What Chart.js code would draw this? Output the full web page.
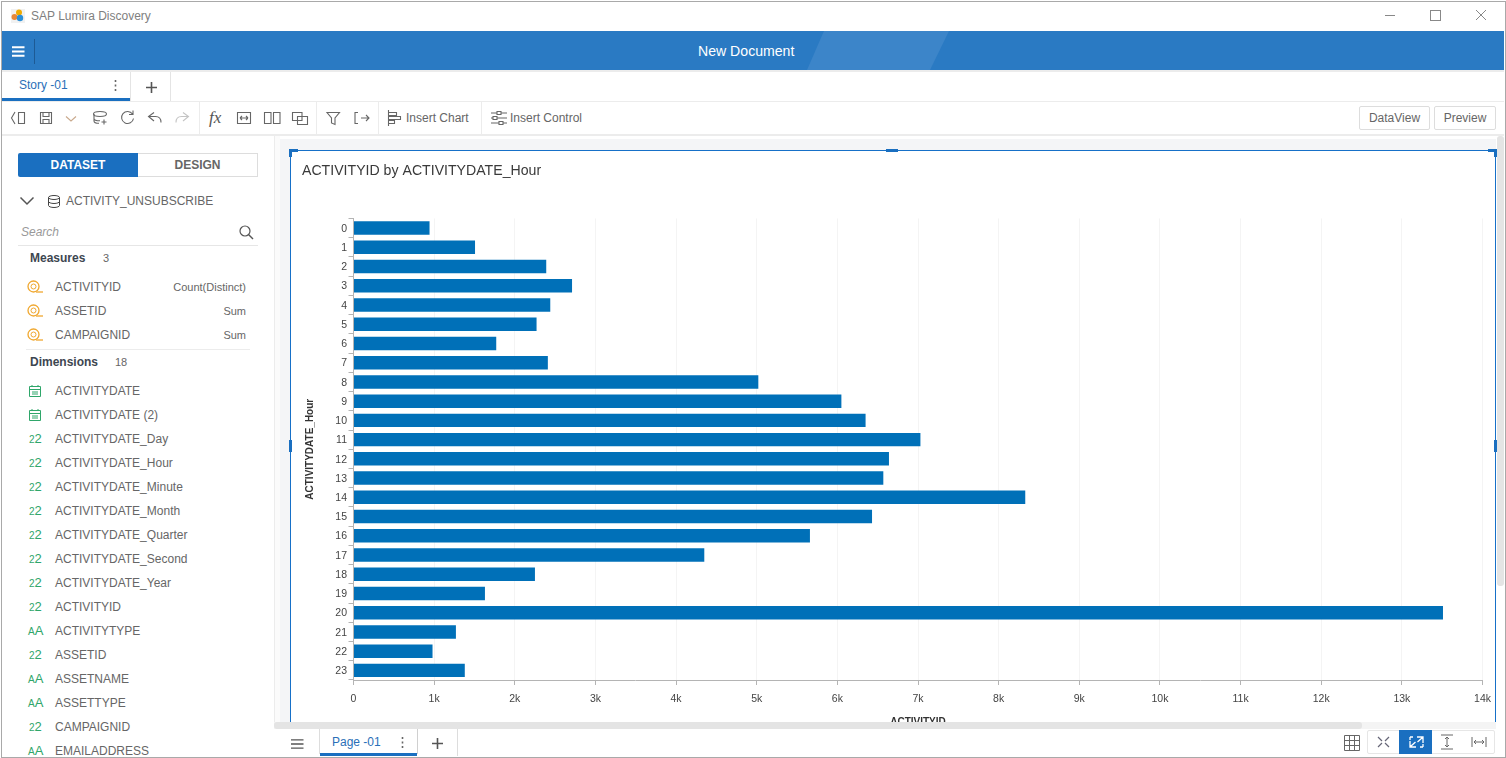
<!DOCTYPE html>
<html>
<head>
<meta charset="utf-8">
<title>SAP Lumira Discovery</title>
<script src="https://cdn.jsdelivr.net/npm/chart.js@4"></script>
<style>
  html, body { margin: 0; padding: 0; background: #fff; overflow: hidden; }
  body { width: 1506px; height: 758px; position: relative; font-family: "Liberation Sans", Arial, sans-serif; color: #666; }
  .a { position: absolute; }
  .t { position: absolute; white-space: nowrap; line-height: 14px; }
  svg { position: absolute; overflow: visible; fill: none; }
  #chartBox { position: absolute; left: 292px; top: 152px; width: 1203px; height: 578px; z-index: 1; }
  #bottomBar { position: absolute; left: 274px; top: 722px; width: 1230px; height: 34px; z-index: 2; background: #fff; }
</style>
</head>
<body>
<!-- window frame -->
<div class="a" style="left:1px;top:1px;width:1503px;height:755px;border:1px solid #a9a9a9;z-index:5;pointer-events:none"></div>

<!-- title bar -->
<div class="a" style="left:11px;top:9px;width:14px;height:14px;background:#f1f1f1"></div>
<svg style="left:11px;top:9px" width="15" height="15"><circle cx="8" cy="3.5" r="3" fill="#f0ab00"/><circle cx="3.5" cy="8" r="3" fill="#e8883a"/><circle cx="9" cy="9" r="3.2" fill="#2a8fd8"/></svg>
<div class="t" style="left:31px;top:9px;font-size:12px;color:#808080">SAP Lumira Discovery</div>
<div class="a" style="left:1385px;top:15px;width:10px;height:1px;background:#888"></div>
<div class="a" style="left:1430px;top:10px;width:9px;height:9px;border:1px solid #888"></div>
<svg style="left:1476px;top:10px" width="11" height="11"><path d="M0 0L10 10M10 0L0 10" stroke="#888"/></svg>

<!-- blue header -->
<div class="a" style="left:2px;top:31px;width:1502px;height:39px;background:#2a7ac3;overflow:hidden">
  <svg style="left:0;top:0" width="1502" height="39"><path d="M822 0H947L928 39H805Z" fill="#3c85c9"/></svg>
</div>
<svg style="left:12px;top:46px" width="13" height="11"><path d="M0 1.2H12.5M0 5.5H12.5M0 9.8H12.5" stroke="#fff" stroke-width="2"/></svg>
<div class="a" style="left:34px;top:39px;width:1px;height:25px;background:#1d5a94"></div>
<div class="t" style="left:698px;top:44px;font-size:14.1px;color:#fff">New Document</div>
<div class="a" style="left:2px;top:70px;width:1502px;height:2px;background:#ececec"></div>

<!-- story tabs -->
<div class="t" style="left:19px;top:78px;font-size:12px;color:#2a6fb8">Story -01</div>
<svg style="left:114px;top:80px" width="3" height="12"><path d="M1.5 0v2M1.5 4.5v2M1.5 9v2" stroke="#666" stroke-width="1.6"/></svg>
<div class="a" style="left:2px;top:98px;width:128px;height:3px;background:#1a6fc0"></div>
<div class="a" style="left:130px;top:72px;width:1px;height:29px;background:#e4e4e4"></div>
<div class="a" style="left:170px;top:72px;width:1px;height:29px;background:#e4e4e4"></div>
<svg style="left:146px;top:82px" width="11" height="11"><path d="M5.5 0V11M0 5.5H11" stroke="#555" stroke-width="1.6"/></svg>

<!-- toolbar -->
<div class="a" style="left:2px;top:101px;width:1502px;height:1px;background:#ececec"></div>
<div class="a" style="left:2px;top:134px;width:1502px;height:2px;background:#ececec"></div>
<div class="a" style="left:199px;top:102px;width:1px;height:32px;background:#ececec"></div>
<div class="a" style="left:316px;top:102px;width:1px;height:32px;background:#ececec"></div>
<div class="a" style="left:378px;top:102px;width:1px;height:32px;background:#ececec"></div>
<div class="a" style="left:481px;top:102px;width:1px;height:32px;background:#ececec"></div>
<svg style="left:0;top:0;pointer-events:none" width="700" height="135">
  <g stroke="#666" stroke-width="1.1">
    <path d="M15 112L11.500 118L15 124M18.500 112.500h6v11h-6z"/>
    <path d="M40.500 112.500h11v11h-11zM43 112.500v4h6v-4M43 123.500v-4h6v4"/>
    <path d="M66 116.500l5 4.500l5-4.500" stroke="#c9a98c"/>
    <ellipse cx="100" cy="114" rx="6.500" ry="2.500"/><path d="M94 114v7c0 1.500 3 2.300 5 2.300M94 118.500c0 1.300 3 2.300 6 2.300"/><path d="M104 119.500v5M101.500 122h5"/>
    <path d="M132.500 114a6 6 0 1 0 1 4.500M133 110.500v4h-4"/>
    <path d="M154 112.500l-5.500 4l5.500 4.500M148.500 116.500h7c3 0 5.500 2 5.500 6"/>
    <path d="M183 112.500l5.500 4l-5.500 4.500M188.500 116.500h-7c-3 0-5.500 2-5.500 6" stroke="#c4c4c4"/>
    <path d="M237.500 112.500h13v11h-13zM240 118h8M240 118l2-2M240 118l2 2M248 118l-2-2M248 118l-2 2"/>
    <path d="M264.500 112.500h6.500v11h-6.500zM273.500 112.500h6.500v11h-6.500z"/>
    <path d="M292.500 112.500h9.500v8h-9.500zM297.500 116.500h10v8h-10z"/>
    <path d="M327 112.500h12.500l-4.500 5.500v6.500l-3.500-1.500v-5z"/>
    <path d="M358 112.500h-3v11h3M361 118h8M366 115l3 3l-3 3"/>
    <path d="M388.500 110v16M388.500 112.500h8v3h-8zM388.500 116.500h12v3h-12zM388.500 120.500h6v3h-6z"/>
    <path d="M491 113h6M501 113h6M491 118h2M497 118h10M491 123h8M503 123h4M497 111.500h4v3h-4zM493 116.500h4v3h-4zM499 121.500h4v3h-4z"/>
  </g>
</svg>
<div class="t" style="left:209px;top:108px;font:italic 17px 'Liberation Serif';color:#555">fx</div>
<div class="t" style="left:406px;top:111px;font-size:12px">Insert Chart</div>
<div class="t" style="left:510px;top:111px;font-size:12px">Insert Control</div>
<div class="t" style="left:1359px;top:106px;width:69px;height:22px;line-height:23px;border:1px solid #ddd;border-radius:2px;text-align:center;font-size:12px">DataView</div>
<div class="t" style="left:1434px;top:106px;width:60px;height:22px;line-height:23px;border:1px solid #ddd;border-radius:2px;text-align:center;font-size:12px">Preview</div>

<!-- canvas area background -->
<div class="a" style="left:274px;top:136px;width:1px;height:586px;background:#ececec"></div>
<div class="a" style="left:275px;top:136px;width:5px;height:586px;background:#fbfbfb"></div>
<div class="a" style="left:280px;top:139px;width:1216px;height:583px;background:#f4f5f7"></div>
<div class="a" style="left:1497px;top:136px;width:7px;height:450px;background:#e4e4e4;border-radius:3px"></div>
<div class="a" style="left:290px;top:150px;width:1204px;height:579px;background:#fff;border:1px solid #1670c8;border-bottom:0"></div>
<div class="a" style="left:289px;top:149px;width:9px;height:3px;background:#1a6fc0;z-index:3"></div>
<div class="a" style="left:289px;top:149px;width:3px;height:8px;background:#1a6fc0;z-index:3"></div>
<div class="a" style="left:1488px;top:149px;width:9px;height:3px;background:#1a6fc0;z-index:3"></div>
<div class="a" style="left:1494px;top:149px;width:3px;height:8px;background:#1a6fc0;z-index:3"></div>
<div class="a" style="left:886px;top:149px;width:12px;height:3px;background:#1a6fc0;z-index:3"></div>
<div class="a" style="left:289px;top:440px;width:3px;height:12px;background:#1a6fc0;z-index:3"></div>
<div class="a" style="left:1494px;top:440px;width:3px;height:12px;background:#1a6fc0;z-index:3"></div>

<div id="chartBox"><canvas id="chart" width="1203" height="578"></canvas></div>

<!-- bottom bar -->
<div id="bottomBar">
  <div class="a" style="left:0;top:0;width:1222px;height:7px;background:#f4f4f4"></div>
  <div class="a" style="left:0;top:0;width:1088px;height:7px;background:#e4e4e4;border-radius:3px"></div>
  <svg style="left:17px;top:17px" width="13" height="10"><path d="M0 0.800H12.500M0 5H12.500M0 9.200H12.500" stroke="#555" stroke-width="1.300"/></svg>
  <div class="a" style="left:45px;top:7px;width:1px;height:25px;background:#ddd"></div>
  <div class="t" style="left:58px;top:13px;font-size:12px;color:#2a6fb8">Page -01</div>
  <svg style="left:127px;top:15px" width="3" height="12"><path d="M1.500 0v2M1.500 4.500v2M1.500 9v2" stroke="#666" stroke-width="1.600"/></svg>
  <div class="a" style="left:46px;top:31px;width:97px;height:3px;background:#1a6fc0"></div>
  <div class="a" style="left:143px;top:7px;width:1px;height:25px;background:#d0d0d0"></div>
  <svg style="left:158px;top:16px" width="11" height="11"><path d="M5.500 0V11M0 5.500H11" stroke="#555" stroke-width="1.600"/></svg>
  <div class="a" style="left:183px;top:7px;width:1px;height:27px;background:#ddd"></div>
  <svg style="left:1070px;top:13px" width="16" height="16"><path d="M0.500 0.500h15v15h-15zM5.500 0.500v15M10.500 0.500v15M0.500 5.500h15M0.500 10.500h15" stroke="#666"/></svg>
  <div class="a" style="left:1093px;top:8px;width:128px;height:24px;border:1px solid #e6e6e6;box-sizing:border-box;border-radius:2px"></div>
  <div class="a" style="left:1125px;top:8px;width:33px;height:24px;background:#1a6fc0"></div>
  <svg style="left:1093px;top:8px" width="128" height="24">
    <path d="M11 7l4 4M22 7l-4 4M11 17l4-4M22 17l-4-4" stroke="#667" stroke-width="1.200"/>
    <path d="M43 7h3M43 7v3M56 17h-3M56 17v-3M50 7h6v6M49 17h-6v-6M55.500 7.500l-5 4.500M43.500 16.500l5-4.500" stroke="#fff" stroke-width="1.300"/>
    <path d="M74 5h12M74 19h12M80 7v10M78 9l2-2l2 2M78 15l2 2l2-2" stroke="#666"/>
    <path d="M105 7v10M119 7v10M107 12h10M109 10l-2 2l2 2M115 10l2 2l-2 2" stroke="#666"/>
  </svg>
</div>

<!-- side panel -->
<div class="t" style="left:18px;top:153px;width:120px;height:24px;line-height:24px;background:#1a6fc0;color:#fff;font-weight:bold;font-size:12px;text-align:center;border-radius:2px 0 0 2px">DATASET</div>
<div class="t" style="left:138px;top:153px;width:119px;height:22px;line-height:23px;border:1px solid #ddd;border-left:0;font-weight:bold;font-size:12px;text-align:center">DESIGN</div>
<svg style="left:20px;top:197px" width="14" height="8"><path d="M0.500 0.500L7 7L13.500 0.500" stroke="#555" stroke-width="1.500"/></svg>
<svg style="left:48px;top:195px" width="12" height="13"><ellipse cx="6" cy="2.500" rx="5.500" ry="2" stroke="#444"/><path d="M0.500 2.500v8c0 1 2.500 2 5.500 2s5.500-1 5.500-2v-8M0.500 6.500c0 1 2.500 2 5.500 2s5.500-1 5.500-2" stroke="#444"/></svg>
<div class="t" style="left:66px;top:194px;font-size:12px">ACTIVITY_UNSUBSCRIBE</div>
<div class="t" style="left:21px;top:225px;font-size:12px;font-style:italic;color:#999">Search</div>
<svg style="left:239px;top:225px" width="15" height="15"><circle cx="6" cy="6" r="5" stroke="#555" stroke-width="1.200"/><path d="M9.500 9.500L14 14" stroke="#555" stroke-width="1.400"/></svg>
<div class="a" style="left:18px;top:245px;width:240px;height:1px;background:#e6e6e6"></div>
<div class="t" style="left:30px;top:251px;font-size:12px;font-weight:bold;color:#3d4650">Measures</div>
<div class="t" style="left:103px;top:251px;font-size:11px">3</div>
<div class="a" style="left:26px;top:349px;width:224px;height:1px;background:#ececec"></div>
<div class="t" style="left:30px;top:355px;font-size:12px;font-weight:bold;color:#3d4650">Dimensions</div>
<div class="t" style="left:115px;top:355px;font-size:11px">18</div>
<div id="fields" style="position:absolute;left:0;top:0;width:274px;height:756px;overflow:hidden"></div>

<script>
// values, one per hour
var hours = ['0','1','2','3','4','5','6','7','8','9','10','11','12','13','14','15','16','17','18','19','20','21','22','23'];
var activityCounts = [943, 1507, 2390, 2710, 2440, 2270, 1770, 2410, 5020, 6050, 6350, 7030, 6640, 6570, 8330, 6430, 5660, 4350, 2250, 1630, 13510, 1270, 980, 1380];
var xTicksMax = 14000;
var xStep = 1000;

var measures = [['ACTIVITYID', 'Count(Distinct)'], ['ASSETID', 'Sum'], ['CAMPAIGNID', 'Sum']];
var dimensions = [
  ['cal', 'ACTIVITYDATE'], ['cal', 'ACTIVITYDATE (2)'], ['num', 'ACTIVITYDATE_Day'], ['num', 'ACTIVITYDATE_Hour'],
  ['num', 'ACTIVITYDATE_Minute'], ['num', 'ACTIVITYDATE_Month'], ['num', 'ACTIVITYDATE_Quarter'], ['num', 'ACTIVITYDATE_Second'],
  ['num', 'ACTIVITYDATE_Year'], ['num', 'ACTIVITYID'], ['txt', 'ACTIVITYTYPE'], ['num', 'ASSETID'],
  ['txt', 'ASSETNAME'], ['txt', 'ASSETTYPE'], ['num', 'CAMPAIGNID'], ['txt', 'EMAILADDRESS']
];

// side panel rows
var html = '';
var green = '#2fa66a';
measures.forEach(function(m, i){
  var y = 287 + i * 24;
  html += '<svg style="left:27px;top:' + (y - 7) + 'px" width="17" height="14"><circle cx="6.500" cy="6.500" r="5.500" stroke="#f0a830" stroke-width="1.300"/><circle cx="6.500" cy="6.500" r="2.500" stroke="#f0a830"/><path d="M9 12H16" stroke="#f0a830" stroke-width="1.300"/></svg>';
  html += '<div class="t" style="left:55px;top:' + (y - 7) + 'px;font-size:12px">' + m[0] + '</div>';
  html += '<div class="t" style="right:28px;top:' + (y - 7) + 'px;font-size:11px">' + m[1] + '</div>';
});
dimensions.forEach(function(d, i){
  var y = 391 + i * 24;
  if(d[0] == 'cal'){
    html += '<svg style="left:29px;top:' + (y - 6) + 'px" width="12" height="12"><path d="M0.500 1.500h11v10h-11zM0.500 4.500h11M3 0v2M9 0v2M3 7h6M3 9h6" stroke="' + green + '"/></svg>';
  } else if(d[0] == 'num'){
    html += '<div class="t" style="left:29px;top:' + (y - 7) + 'px;font-size:10px;color:' + green + '">2<span style="font-size:13px">2</span></div>';
  } else {
    html += '<div class="t" style="left:28px;top:' + (y - 7) + 'px;font-size:10px;color:' + green + '">A<span style="font-size:13px">A</span></div>';
  }
  html += '<div class="t" style="left:55px;top:' + (y - 7) + 'px;font-size:12px">' + d[1] + '</div>';
});
document.getElementById('fields').innerHTML = html;

var axisGrey = '#b4b4b4';
var tickFont = { family: '"Liberation Sans", Arial, sans-serif', size: 10.5 };
var titleFont = { family: '"Liberation Sans", Arial, sans-serif', size: 10, weight: 'bold' };

var ctx = document.getElementById('chart');
new Chart(ctx, {
  type: 'bar',
  data: {
    labels: hours,
    datasets: [{
      label: 'ACTIVITYID',
      data: activityCounts,
      backgroundColor: '#0070b8',
      borderWidth: 0,
      barPercentage: 0.7,
      categoryPercentage: 1
    }]
  },
  options: {
    indexAxis: 'y',
    responsive: false,
    animation: false,
    devicePixelRatio: 1,
    layout: { padding: { left: 10, right: 12.5, top: 0, bottom: 0 } },
    plugins: {
      legend: { display: false },
      tooltip: { enabled: false },
      title: {
        display: true,
        text: 'ACTIVITYID by ACTIVITYDATE_Hour',
        align: 'start',
        color: '#3a3a3a',
        font: { family: '"Liberation Sans", Arial, sans-serif', size: 14.14, weight: 'normal' },
        padding: { top: 10.6, bottom: 38.9 }
      }
    },
    scales: {
      x: {
        position: 'bottom',
        min: 0,
        max: xTicksMax,
        ticks: {
          stepSize: xStep,
          color: '#444',
          font: tickFont,
          padding: 7.5,
          maxRotation: 0,
          callback: function(v){ return v == 0 ? '0' : (v / 1000) + 'k'; }
        },
        grid: { color: '#f4f4f4', tickColor: axisGrey, tickLength: 5 },
        border: { color: axisGrey, width: 1 },
        title: { display: true, text: 'ACTIVITYID', color: '#333', font: titleFont, padding: { top: 0, bottom: 2 } },
        afterFit: function(scale){ scale.height = 50; scale.paddingLeft = 0; scale.paddingRight = 0; }
      },
      y: {
        ticks: { color: '#444', font: tickFont, padding: 1.5, autoSkip: false, labelOffset: 0.8 },
        grid: { drawOnChartArea: false, tickColor: axisGrey, tickLength: 5 },
        border: { color: axisGrey, width: 1 },
        title: { display: true, text: 'ACTIVITYDATE_Hour', color: '#333', font: titleFont, padding: { top: 2, bottom: 0 } },
        afterFit: function(scale){ scale.width = 51.5; }
      }
    }
  }
});
</script>
</body>
</html>
